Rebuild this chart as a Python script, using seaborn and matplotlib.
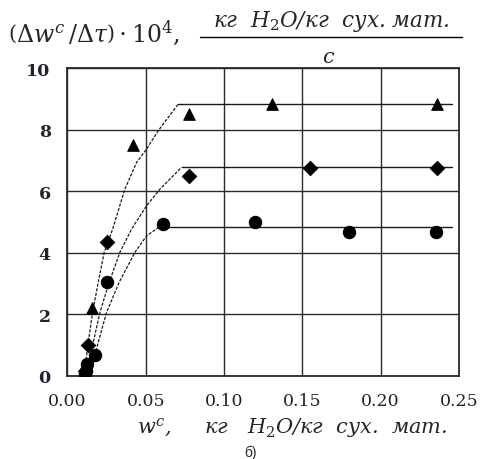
import numpy as np
import pandas as pd
import matplotlib
matplotlib.use("Agg")
import matplotlib.pyplot as plt
from matplotlib.lines import Line2D
from matplotlib.ticker import MultipleLocator
import seaborn as sns

# measured points
tri_x = [0.011, 0.0156, 0.0418, 0.0776, 0.1306, 0.236]
tri_y = [0.05, 2.2, 7.51, 8.52, 8.84, 8.84]
dia_x = [0.011, 0.0131, 0.0252, 0.0776, 0.155, 0.236]
dia_y = [0.15, 0.99, 4.35, 6.5, 6.76, 6.76]
cir_x = [0.011, 0.0118, 0.0125, 0.0176, 0.0252, 0.061, 0.1197, 0.18, 0.2353]
cir_y = [0.05, 0.15, 0.37, 0.67, 3.05, 4.93, 5.0, 4.67, 4.67]

# approximating curves (rising part + plateau)
curve_a_x = [0.0112, 0.0133, 0.0161, 0.0197, 0.0235, 0.0289, 0.0367, 0.0442, 0.0506, 0.058, 0.0708]
curve_a_y = [0.21, 1.08, 2.06, 3.04, 4.01, 4.77, 6.07, 6.94, 7.38, 7.97, 8.84]
curve_b_x = [0.0133, 0.0165, 0.0208, 0.0267, 0.0335, 0.041, 0.0506, 0.0591, 0.0729]
curve_b_y = [0.21, 1.08, 2.06, 3.04, 4.01, 4.77, 5.53, 6.07, 6.78]
curve_c_x = [0.0155, 0.0197, 0.025, 0.0331, 0.0431, 0.0506, 0.059]
curve_c_y = [0.21, 1.08, 2.06, 3.04, 4.01, 4.55, 4.85]
plateau_end = 0.2455

sns.set_style("white")
plt.rcParams["font.family"] = ["DejaVu Serif"]
plt.rcParams["mathtext.fontset"] = "custom"
plt.rcParams["mathtext.rm"] = "DejaVu Serif"
plt.rcParams["mathtext.it"] = "DejaVu Serif:italic"

fig = plt.figure(figsize=(4.85, 4.6), dpi=100)
ax = fig.add_axes([0.139, 0.1815, 0.807, 0.6675])

ink = "#1a1a1a"
for cx, cy in [(curve_a_x, curve_a_y), (curve_b_x, curve_b_y), (curve_c_x, curve_c_y)]:
    sns.lineplot(x=cx, y=cy, ax=ax, sort=False, estimator=None, color=ink,
                 linewidth=0.9, linestyle=(0, (2.5, 1.2)))
    sns.lineplot(x=[cx[-1], plateau_end], y=[cy[-1], cy[-1]], ax=ax, sort=False,
                 estimator=None, color=ink, linewidth=1.0)

sns.scatterplot(x=tri_x, y=tri_y, ax=ax, marker="^", s=70, color="black",
                edgecolor="black", zorder=5)
sns.scatterplot(x=dia_x, y=dia_y, ax=ax, marker="D", s=55, color="black",
                edgecolor="black", zorder=5)
sns.scatterplot(x=cir_x, y=cir_y, ax=ax, marker="o", s=80, color="black",
                edgecolor="black", zorder=5)

ax.set_xlim(0, 0.25)
ax.set_ylim(0, 10)
ax.xaxis.set_major_locator(MultipleLocator(0.05))
ax.xaxis.set_minor_locator(MultipleLocator(0.005))
ax.yaxis.set_major_locator(MultipleLocator(2))
ax.yaxis.set_minor_locator(MultipleLocator(0.2))
ax.xaxis.set_major_formatter(plt.FormatStrFormatter("%.2f"))
ax.grid(True, which="major", color="#2a2a2a", linewidth=1.0)
ax.set_axisbelow(True)
for s in ax.spines.values():
    s.set_color("#2a2a2a")
    s.set_linewidth(1.3)

ax.tick_params(axis="x", which="major", direction="out", length=7, width=1,
               pad=5, labelsize=12.5, colors="#222233")
ax.tick_params(axis="x", which="minor", direction="out", length=5, width=0.8)
ax.tick_params(axis="y", which="major", direction="out", length=9, width=1,
               pad=3, labelsize=12.5, colors="#222233")
ax.tick_params(axis="y", which="minor", direction="out", length=5, width=0.8)
for lab in ax.get_yticklabels():
    lab.set_fontweight("bold")
ax.set_xlabel("")
ax.set_ylabel("")

# header (y quantity)
fig.text(0.016, 0.928, r"$\left(\Delta \mathit{w}^{c}\,/\Delta\tau\right)\cdot 10^{4}$,",
         fontsize=17, va="center", ha="left")
fig.text(0.683, 0.953, r"кг  $\mathit{H_2O}$/кг  сух. мат.", fontsize=15.5,
         style="italic", ha="center", va="center")
fig.add_artist(Line2D([0.412, 0.953], [0.917, 0.917], color="black", linewidth=1.0))
fig.text(0.677, 0.876, "c", fontsize=15, style="italic", ha="center", va="center")

# x quantity
fig.text(0.602, 0.069, r"$\mathit{w}^{c}$,     кг   $\mathit{H_2O}$/кг  сух.  мат.",
         fontsize=15, style="italic", ha="center", va="center")
fig.text(0.516, 0.015, "б)", fontsize=10, family=["Liberation Sans", "DejaVu Sans"],
         ha="center", va="center")

fig.savefig("out.png", dpi=100)
